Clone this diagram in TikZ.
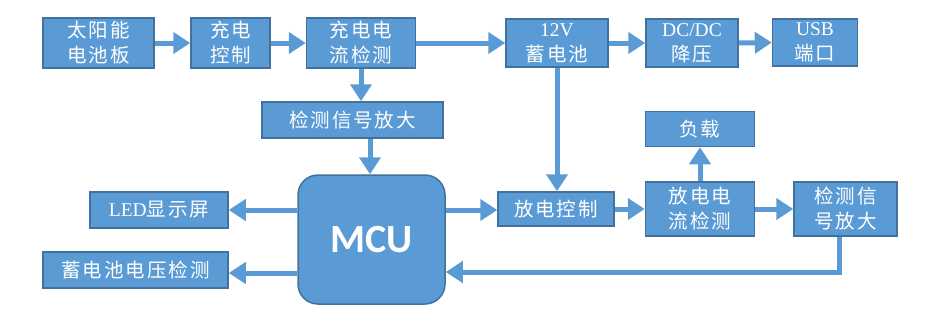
\documentclass[tikz,border=0pt]{standalone}
\usepackage{fontspec}
\setmainfont{Liberation Serif}
\newfontfamily\cjk[LetterSpace=10]{Noto Sans CJK SC}
\newfontfamily\mcufont{Carlito}
\usetikzlibrary{arrows.meta}
\definecolor{boxblue}{HTML}{5B9BD5}
\definecolor{edgeblue}{HTML}{41719C}
\tikzset{
  blk/.style={draw=edgeblue, line width=1.5pt, fill=boxblue, text=white, inner sep=0pt,
    align=center, font=\fontsize{19.5}{25}\selectfont\cjk},
  conn/.style={draw=boxblue, line width=5pt, -{Triangle[length=17pt,width=21pt]}},
}
\begin{document}
\begin{tikzpicture}[x=1pt,y=-1pt]
\useasboundingbox (0,0) rectangle (927,325);
\node[blk, minimum width=111pt, minimum height=50pt] (solar) at (98.5,43) {太阳能\\电池板};
\node[blk, minimum width=79pt, minimum height=50pt] (chgctl) at (230.5,43) {充电\\控制};
\node[blk, minimum width=109pt, minimum height=50pt] (chgdet) at (361,43) {充电电\\流检测};
\node[blk, minimum width=102pt, minimum height=48pt] (batt) at (557,43) {{\rmfamily 12V}\\蓄电池};
\node[blk, minimum width=92pt, minimum height=48pt] (dcdc) at (692,43) {{\rmfamily DC/DC}\\降压};
\node[blk, minimum width=85pt, minimum height=47pt] (usb) at (815,42.5) {{\rmfamily USB}\\端口};
\node[blk, minimum width=181pt, minimum height=36pt] (amp1) at (352.5,120) {检测信号放大};
\node[blk, minimum width=109pt, minimum height=35pt] (load) at (700,129) {负载};
\node[blk, minimum width=138pt, minimum height=36pt] (led) at (159,210) {{\rmfamily LED}显示屏};
\node[blk, minimum width=185pt, minimum height=36pt] (volt) at (135.5,270) {蓄电池电压检测};
\node[blk, minimum width=147pt, minimum height=129pt, rounded corners=20pt,
  font=\fontsize{40}{40}\selectfont\mcufont\bfseries] (mcu) at (371.5,239.5) {MCU};
\node[blk, minimum width=116pt, minimum height=34pt] (dctl) at (556,209) {放电控制};
\node[blk, minimum width=109pt, minimum height=54pt] (ddet) at (700,209) {放电电\\流检测};
\node[blk, minimum width=103pt, minimum height=54pt] (amp2) at (845.5,209) {检测信\\号放大};
\coordinate (mcuR1) at ([yshift=29.5pt]mcu.east);
\coordinate (mcuR2) at ([yshift=-32.5pt]mcu.east);
\coordinate (mcuL1) at ([yshift=29.5pt]mcu.west);
\coordinate (mcuL2) at ([yshift=-33.5pt]mcu.west);
% top chain
\draw[conn] (solar.east) -- (chgctl.west);
\draw[conn] (chgctl.east) -- (chgdet.west);
\draw[conn] (chgdet.east) -- (batt.west);
\draw[conn] (batt.east) -- (dcdc.west);
\draw[conn] (dcdc.east) -- (usb.west);
% vertical
\draw[conn] (chgdet.south) -- (chgdet.south |- amp1.north);
\draw[conn] ([xshift=17.5pt]amp1.south) -- ([xshift=17.5pt]amp1.south |- mcu.north);
\draw[conn] (batt.south) -- (batt.south |- dctl.north);
\draw[conn] (ddet.north) -- (load.south);
% MCU outputs
\draw[conn] (mcuR1) -- (mcuR1 -| dctl.west);
\draw[conn] (dctl.east) -- (dctl.east -| ddet.west);
\draw[conn] (ddet.east) -- (amp2.west);
\draw[conn] (mcuL1) -- (mcuL1 -| led.east);
\draw[conn] (mcuL2) -- (mcuL2 -| volt.east);
% feedback
\draw[conn] ([xshift=-6.5pt]amp2.south) |- (mcuR2);
\end{tikzpicture}
\end{document}
